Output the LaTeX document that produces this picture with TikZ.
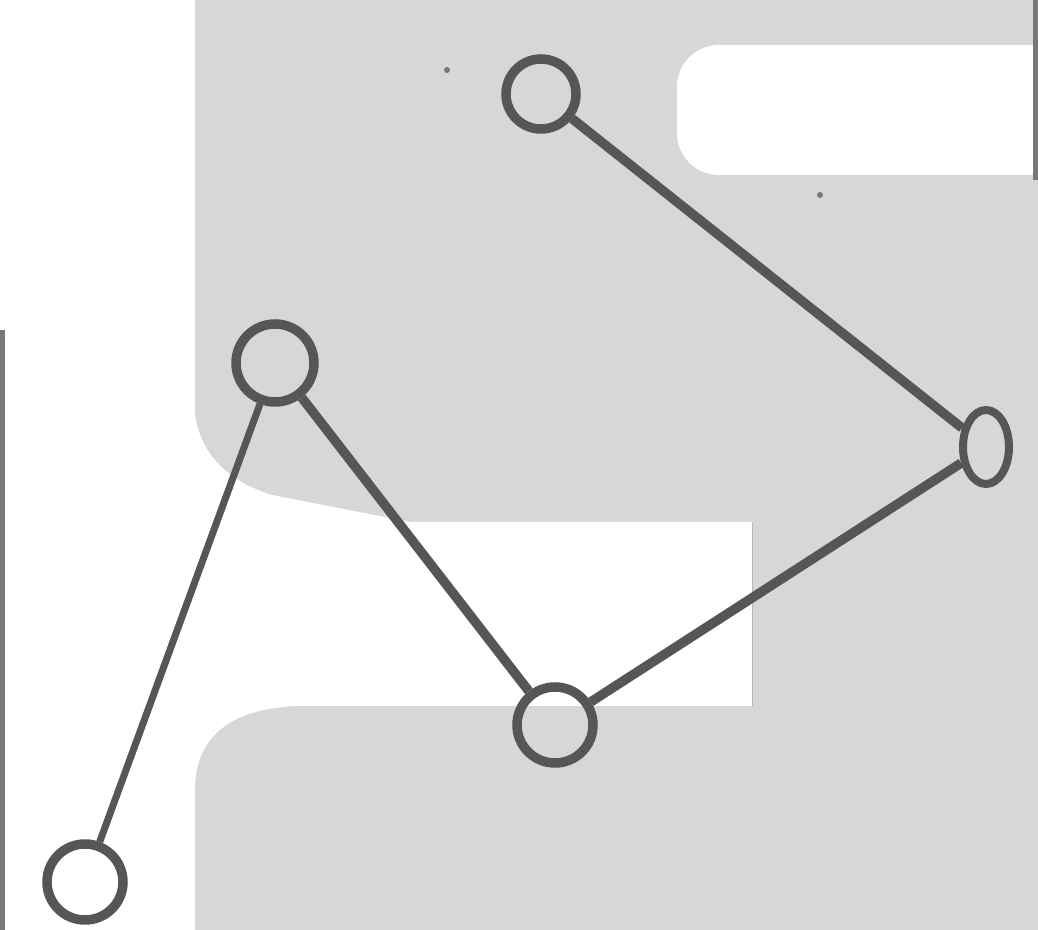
\documentclass[tikz,border=0pt]{standalone}
\usetikzlibrary{shapes.geometric}
\definecolor{paper}{HTML}{D7D7D7}
\definecolor{ink}{HTML}{565656}
\tikzset{
  ring/.style={circle, draw=ink, line width=0.095cm, inner sep=0pt, minimum size=#1},
  oval/.style={ellipse, draw=ink, line width=0.08cm, inner sep=0pt, minimum width=0.46cm, minimum height=0.74cm},
  link/.style={draw=ink, line width=0.095cm},
  thinlink/.style={draw=ink, line width=0.07cm},
  edge mark/.style={draw=ink!80, line width=0.05cm}
}
\begin{document}
\begin{tikzpicture}[x=1cm,y=1cm]
\useasboundingbox (0,0) rectangle (10.38,-9.30);
% grey paper and white cut-outs
\fill[white] (0,0) rectangle (10.38,-9.30);
\fill[paper] (1.95,0) rectangle (10.38,-9.30);
\fill[white, rounded corners=0.42cm] (10.7,-0.45) -- (6.77,-0.45) -- (6.77,-1.75) -- (10.7,-1.75) -- cycle;
\fill[white] (1.94,-4.05) .. controls (1.97,-4.55) and (2.3,-4.82) .. (2.72,-4.95)
  -- (4.1,-5.22) -- (7.53,-5.22) -- (7.53,-7.06) -- (2.95,-7.06)
  .. controls (2.2,-7.1) and (1.95,-7.45) .. (1.95,-7.9) -- (1.94,-7.9) -- cycle;
\draw[paper!85!black, line width=0.01cm] (7.53,-5.22) -- (7.53,-7.06);
% scan edges and specks
\draw[edge mark] (0.02,-3.3) -- (0.02,-9.30);
\draw[edge mark] (10.36,0) -- (10.36,-1.8);
\fill[ink!80] (4.47,-0.70) circle (0.03);
\fill[ink!80] (8.20,-1.95) circle (0.03);
% nodes
\node[ring=0.70cm] (A) at (5.41,-0.94) {};
\node[ring=0.78cm] (B) at (2.75,-3.63) {};
\node[oval] (C) at (9.86,-4.47) {};
\node[ring=0.76cm] (D) at (5.55,-7.25) {};
\node[ring=0.76cm] (E) at (0.85,-8.82) {};
% connectors
\draw[link] (A) -- (C);
\draw[link] (B) -- (D);
\draw[link] (D) -- (C);
\draw[thinlink] (B) -- (E);
\end{tikzpicture}
\end{document}
